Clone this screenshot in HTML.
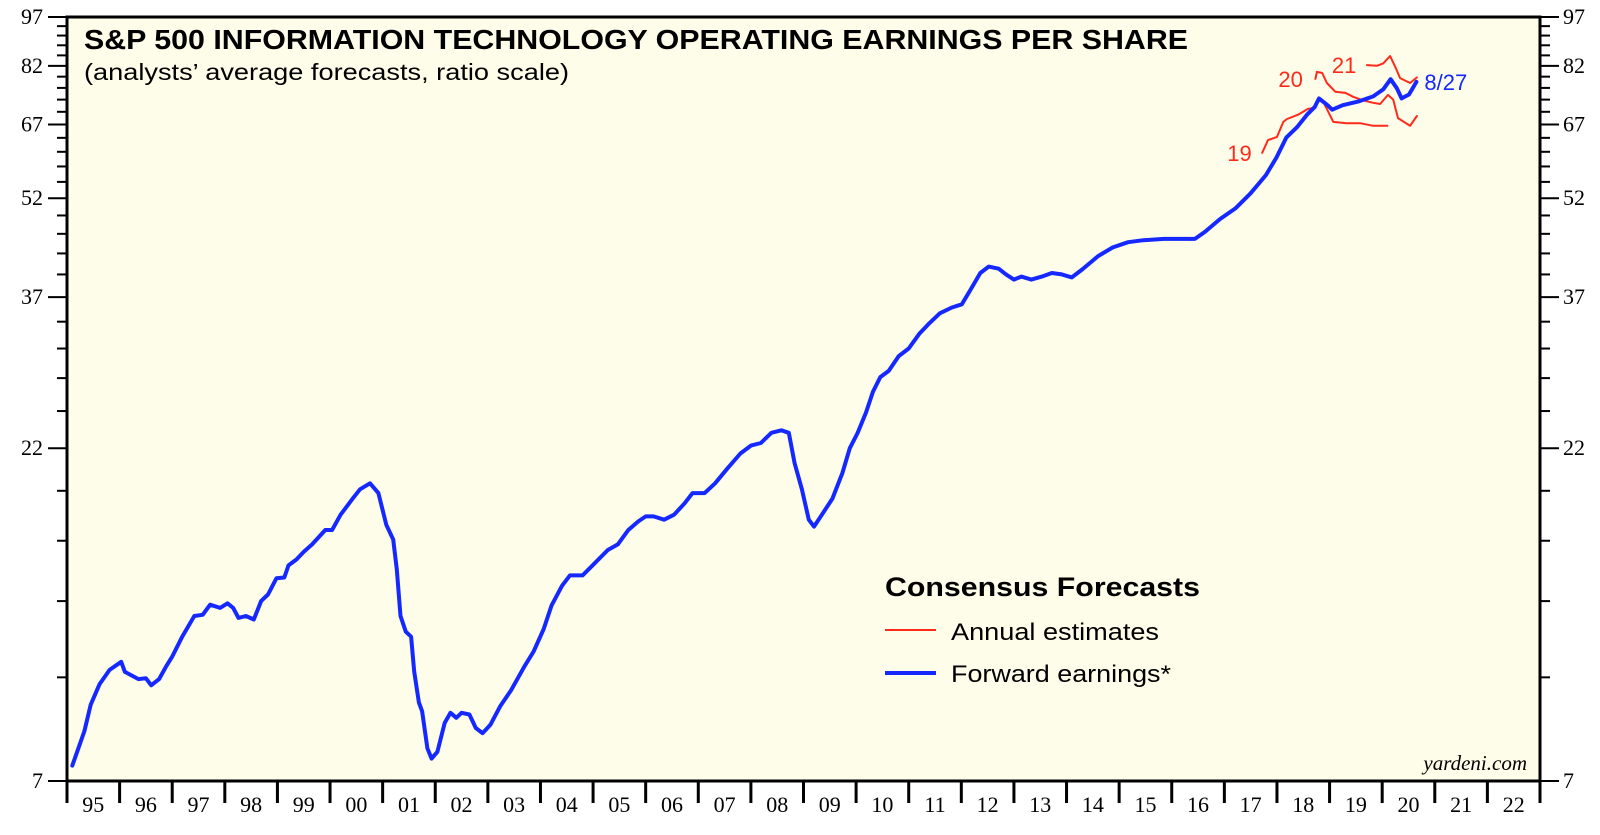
<!DOCTYPE html>
<html><head><meta charset="utf-8">
<style>
html,body{margin:0;padding:0;background:#fff;}
svg{display:block;}
text{font-family:"Liberation Sans",sans-serif;}
.serif{font-family:"Liberation Serif",serif;}
</style></head>
<body>
<svg id="chart" width="1600" height="835" viewBox="0 0 1600 835">
  <rect x="67" y="17" width="1473" height="764" fill="#fdfde9"/>
  <g id="yaxes"></g>
  <g id="xaxis"></g>
  <g id="series"></g>
  <rect x="67" y="17" width="1473" height="764" fill="none" stroke="#000" stroke-width="3"/>
  <text x="84" y="49" font-size="28" font-weight="bold" textLength="1104" lengthAdjust="spacingAndGlyphs">S&amp;P 500 INFORMATION TECHNOLOGY OPERATING EARNINGS PER SHARE</text>
  <text x="84" y="80" font-size="23" textLength="485" lengthAdjust="spacingAndGlyphs">(analysts’ average forecasts, ratio scale)</text>
  <g>
    <text x="885" y="596" font-size="27" font-weight="bold" textLength="315" lengthAdjust="spacingAndGlyphs">Consensus Forecasts</text>
    <line x1="885" y1="630" x2="936" y2="630" stroke="#ff2a1a" stroke-width="2"/>
    <text x="951" y="640" font-size="24" textLength="208" lengthAdjust="spacingAndGlyphs">Annual estimates</text>
    <line x1="885" y1="673" x2="936" y2="673" stroke="#1428ff" stroke-width="4"/>
    <text x="951" y="682" font-size="24" textLength="220" lengthAdjust="spacingAndGlyphs">Forward earnings*</text>
  </g>
  <text x="1527" y="770" font-size="21" font-style="italic" text-anchor="end" class="serif">yardeni.com</text>
</svg>
<script>
// ---- data ----
const fwdDates = [1995.1,1995.33,1995.45,1995.62,1995.81,1996.03,1996.1,1996.36,1996.5,1996.6,1996.75,1996.88,1997.0,1997.19,1997.42,1997.58,1997.72,1997.91,1998.05,1998.16,1998.26,1998.4,1998.55,1998.69,1998.82,1998.98,1999.13,1999.21,1999.36,1999.5,1999.66,1999.91,2000.04,2000.2,2000.43,2000.57,2000.76,2000.92,2001.07,2001.2,2001.27,2001.34,2001.44,2001.54,2001.6,2001.69,2001.75,2001.85,2001.93,2002.04,2002.18,2002.29,2002.4,2002.5,2002.65,2002.77,2002.9,2003.05,2003.24,2003.44,2003.69,2003.87,2004.06,2004.21,2004.41,2004.56,2004.8,2004.99,2005.28,2005.47,2005.67,2005.86,2006.0,2006.15,2006.35,2006.54,2006.74,2006.89,2007.12,2007.32,2007.55,2007.8,2008.0,2008.19,2008.39,2008.58,2008.72,2008.83,2008.97,2009.1,2009.2,2009.35,2009.55,2009.74,2009.88,2010.03,2010.19,2010.32,2010.46,2010.62,2010.81,2011.0,2011.2,2011.39,2011.59,2011.82,2012.01,2012.17,2012.36,2012.52,2012.71,2012.85,2013.0,2013.14,2013.33,2013.53,2013.72,2013.91,2014.1,2014.3,2014.6,2014.88,2015.17,2015.46,2015.85,2016.24,2016.44,2016.63,2016.92,2017.21,2017.5,2017.79,2017.99,2018.18,2018.38,2018.57,2018.72,2018.8,2018.96,2019.05,2019.25,2019.54,2019.83,2020.02,2020.16,2020.28,2020.37,2020.51,2020.65];
const fwdValues = [7.38,8.31,9.1,9.77,10.26,10.55,10.19,9.94,9.97,9.73,9.94,10.37,10.74,11.5,12.35,12.4,12.84,12.7,12.9,12.7,12.27,12.35,12.2,13.0,13.3,14.06,14.1,14.7,15.0,15.4,15.8,16.6,16.6,17.5,18.5,19.1,19.5,18.85,16.9,16.07,14.5,12.35,11.7,11.5,10.2,9.17,8.9,7.83,7.56,7.74,8.55,8.85,8.7,8.85,8.8,8.4,8.25,8.5,9.07,9.56,10.37,10.93,11.8,12.8,13.7,14.2,14.2,14.7,15.5,15.8,16.6,17.1,17.4,17.4,17.2,17.5,18.2,18.85,18.85,19.5,20.5,21.6,22.2,22.4,23.2,23.4,23.2,20.9,19.1,17.2,16.8,17.5,18.5,20.2,22.0,23.2,24.9,26.7,28.1,28.7,30.2,31.0,32.6,33.8,35.0,35.7,36.1,37.9,40.2,41.1,40.8,40.0,39.3,39.7,39.3,39.7,40.2,40.0,39.6,40.7,42.6,43.9,44.7,45.0,45.2,45.2,45.2,46.3,48.4,50.2,52.9,56.3,59.8,64.1,66.4,69.3,71.2,73.3,71.6,70.5,71.6,72.5,73.8,75.6,78.3,75.9,73.3,74.3,77.6];
const est19Dates = [2017.72,2017.83,2018.0,2018.12,2018.19,2018.4,2018.59,2018.73,2018.76,2018.86,2019.07,2019.33,2019.58,2019.83,2020.1];
const est19Values = [60.8,63.5,64.2,67.6,68.3,69.3,70.7,71.0,72.4,73.0,67.6,67.3,67.3,66.7,66.7];
const est20Dates = [2018.73,2018.76,2018.86,2018.95,2019.11,2019.3,2019.45,2019.64,2019.83,2019.96,2020.11,2020.21,2020.3,2020.53,2020.66];
const est20Values = [78.4,80.3,80.0,77.3,75.0,74.7,73.7,72.8,72.2,71.9,74.2,73.0,68.5,66.7,69.0];
const est21Dates = [2019.71,2019.9,2020.02,2020.15,2020.25,2020.34,2020.53,2020.66];
const est21Values = [82.2,82.0,82.7,84.8,81.7,78.6,77.3,78.8];
const yTickLabels = [7,22,37,52,67,82,97];
const xYearLabels = ["95","96","97","98","99","00","01","02","03","04","05","06","07","08","09","10","11","12","13","14","15","16","17","18","19","20","21","22"];

// ---- scales ----
const L=67,R=1540,T=17,B=781,YMIN=7,YMAX=97,X0=1995,X1=2023;
const xs = d => L + (d-X0)/(X1-X0)*(R-L);
const ys = v => B - Math.log(v/YMIN)/Math.log(YMAX/YMIN)*(B-T);
const NS="http://www.w3.org/2000/svg";
function mk(tag, attrs, parent){const e=document.createElementNS(NS,tag);for(const k in attrs)e.setAttribute(k,attrs[k]);parent.appendChild(e);return e;}

// y axes
const ya=document.getElementById('yaxes');
for(let v=7; v<=97; v+=3){
  const major = yTickLabels.includes(v);
  const y=ys(v);
  const tl=mk('line',{x1:major?48:57,x2:L,y1:y,y2:y,stroke:'#000','stroke-width':2},ya);
  
  
  const tr=mk('line',{x1:R,x2:major?1559:1550,y1:y,y2:y,stroke:'#000','stroke-width':2},ya);
  
  
}
yTickLabels.forEach(v=>{
  const y=ys(v);
  const a=mk('text',{x:43,y:y+7,'font-size':22,'text-anchor':'end',class:'serif'},ya);
  a.textContent=v;
  
  
  const b=mk('text',{x:1563,y:y+7,'font-size':22,class:'serif'},ya);
  b.textContent=v;
  
  
});
// x axis
const xa=document.getElementById('xaxis');
for(let i=0;i<=xYearLabels.length;i++){
  const x=xs(X0+i);
  const t=mk('line',{x1:x,x2:x,y1:B,y2:803,stroke:'#000','stroke-width':3},xa);
  
  
}
xYearLabels.forEach((lab,i)=>{
  const t=mk('text',{x:xs(X0+i+0.5),y:812,'font-size':22,'text-anchor':'middle',class:'serif'},xa);
  t.textContent=lab;
  
  
});
// series
const sg=document.getElementById('series');
function path(dates,vals,color,w,name){
  const d=dates.map((dt,i)=>(i?'L':'M')+xs(dt).toFixed(1)+' '+ys(vals[i]).toFixed(1)).join(' ');
  const p=mk('path',{d:d,fill:'none',stroke:color,'stroke-width':w,'stroke-linejoin':'round','stroke-linecap':'round'},sg);
  
  
}
path(est19Dates,est19Values,'#ff2a1a',2,'annual-estimate-2019');
path(est20Dates,est20Values,'#ff2a1a',2,'annual-estimate-2020');
path(est21Dates,est21Values,'#ff2a1a',2,'annual-estimate-2021');
path(fwdDates,fwdValues,'#1428ff',4,'forward-earnings-line');
function lab(txt,x,y,color,name){
  const t=mk('text',{x:x,y:y,'font-size':22,fill:color},sg);
  t.textContent=txt;
  
  
}
lab('19',xs(est19Dates[0])-35,ys(est19Values[0])+8,'#ff2a1a','label-2019');
lab('20',xs(est20Dates[0])-37,ys(est20Values[0])+8,'#ff2a1a','label-2020');
lab('21',xs(est21Dates[0])-35,ys(est21Values[0])+8,'#ff2a1a','label-2021');
lab('8/27',xs(fwdDates[fwdDates.length-1])+8,ys(fwdValues[fwdValues.length-1])+8,'#1428ff','label-last-date');
</script>
</body></html>
